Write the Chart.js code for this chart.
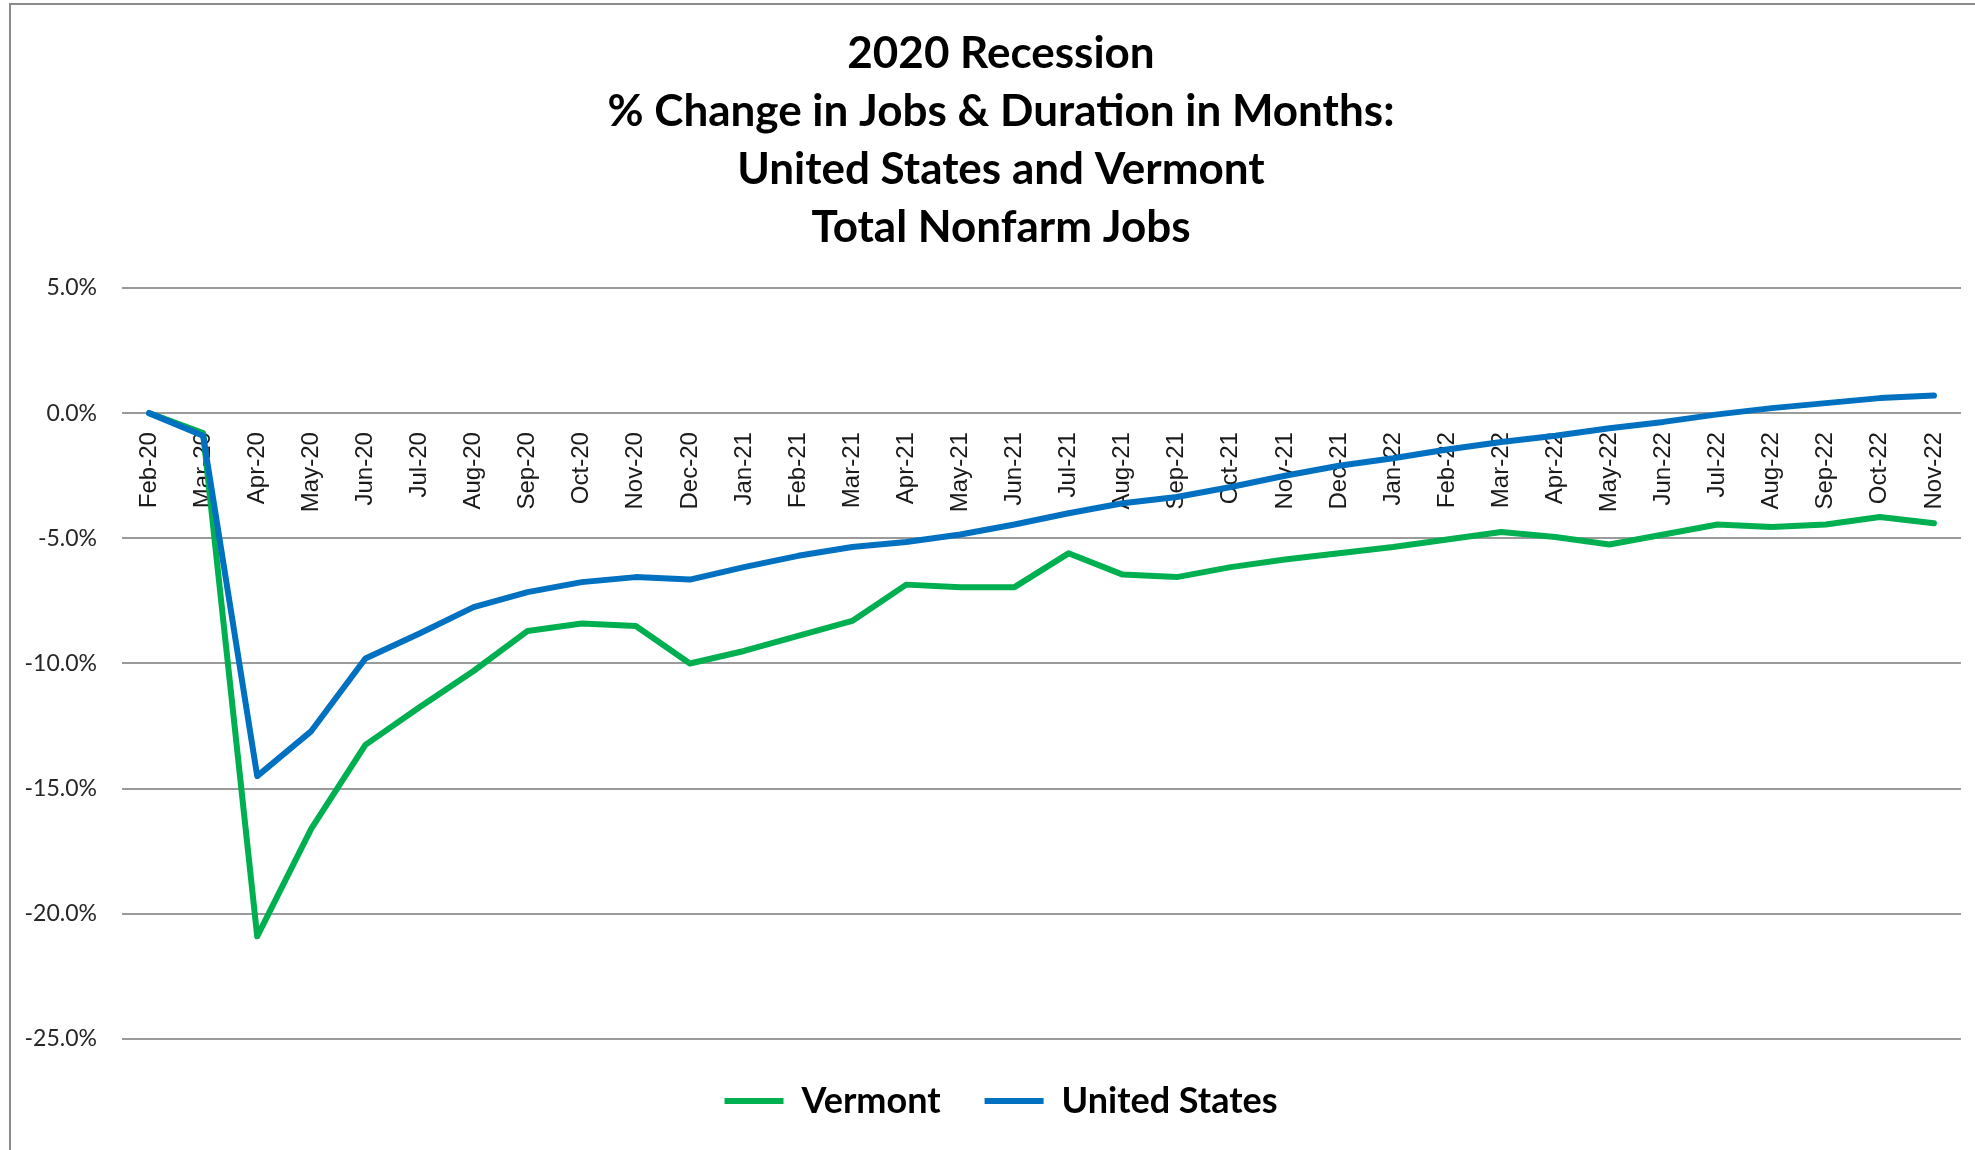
<!DOCTYPE html>
<html>
<head>
<meta charset="utf-8">
<script src="https://cdn.jsdelivr.net/npm/chart.js@4/dist/chart.umd.min.js"></script>
<style>
  html, body { margin: 0; padding: 0; background: #fff; }
  #frame { position: absolute; left: 0; top: 0; width: 1975px; height: 1150px; overflow: hidden; }
  #border { position: absolute; left: 9px; top: 3px; width: 3000px; height: 3000px;
            border-left: 2px solid #8c8c8c; border-top: 2px solid #8c8c8c; }
  /* the chart runs a bit past the right edge of the picture, like the reference */
  #wrap { position: absolute; left: 0; top: 0; width: 1992px; height: 1150px; }
</style>
</head>
<body>
<div id="frame">
  <div id="border"></div>
  <div id="wrap"><canvas id="jobsChart"></canvas></div>
</div>
<script>
// months on the category axis
var months = ['Feb-20','Mar-20','Apr-20','May-20','Jun-20','Jul-20','Aug-20','Sep-20','Oct-20','Nov-20','Dec-20',
              'Jan-21','Feb-21','Mar-21','Apr-21','May-21','Jun-21','Jul-21','Aug-21','Sep-21','Oct-21','Nov-21','Dec-21',
              'Jan-22','Feb-22','Mar-22','Apr-22','May-22','Jun-22','Jul-22','Aug-22','Sep-22','Oct-22','Nov-22'];

// % change in jobs since Feb-20
var vermont      = [0, -0.8, -20.9, -16.6, -13.25, -11.75, -10.3, -8.7, -8.4, -8.5, -10.0,
                    -9.5, -8.9, -8.3, -6.85, -6.95, -6.95, -5.6, -6.45, -6.55, -6.15, -5.85, -5.6,
                    -5.35, -5.05, -4.75, -4.95, -5.25, -4.85, -4.45, -4.55, -4.45, -4.15, -4.4];
var unitedStates = [0, -0.9, -14.5, -12.7, -9.8, -8.8, -7.75, -7.15, -6.75, -6.55, -6.65,
                    -6.15, -5.7, -5.35, -5.15, -4.85, -4.45, -4.0, -3.6, -3.35, -2.95, -2.5, -2.1,
                    -1.8, -1.45, -1.15, -0.9, -0.6, -0.35, -0.05, 0.2, 0.4, 0.6, 0.7];

var yMin = -25, yMax = 5, yStep = 5;

var titleLines = ['2020 Recession', '% Change in Jobs & Duration in Months:', 'United States and Vermont', 'Total Nonfarm Jobs'];

var ctx = document.getElementById('jobsChart');

var jobsChart = new Chart(ctx, {
    type: 'line',
    data: {
        labels: months,
        datasets: [{
            label: 'United States',
            data: unitedStates,
            borderColor: '#0070C0',
            backgroundColor: '#0070C0',
            borderWidth: 6,
            pointRadius: 0,
            tension: 0,
            borderJoinStyle: 'round',
            borderCapStyle: 'round'
        }, {
            label: 'Vermont',
            data: vermont,
            borderColor: '#00B050',
            backgroundColor: '#00B050',
            borderWidth: 6,
            pointRadius: 0,
            tension: 0,
            borderJoinStyle: 'round',
            borderCapStyle: 'round'
        }]
    },
    options: {
        responsive: true,
        maintainAspectRatio: false,
        animation: false,
        layout: {
            padding: { left: 10, right: 0, top: 0, bottom: 21 }
        },
        plugins: {
            title: {
                display: true,
                text: titleLines,
                color: '#000',
                font: { family: 'Lato', size: 44, weight: 'bold', lineHeight: 1.318 },
                padding: { top: 25, bottom: 31 }
            },
            legend: {
                position: 'bottom',
                reverse: true,
                labels: {
                    usePointStyle: true,
                    pointStyle: 'line',
                    pointStyleWidth: 59,
                    padding: 44,
                    color: '#000',
                    font: { family: 'Lato', size: 36, weight: 'bold' }
                }
            },
            tooltip: { enabled: false }
        },
        scales: {
            x: {
                type: 'category',
                position: { y: 0 },
                offset: true,
                grid: { display: false, drawTicks: false },
                border: { display: false },
                ticks: {
                    autoSkip: false,
                    maxRotation: 90,
                    minRotation: 90,
                    padding: 19,
                    color: '#1a1a1a',
                    font: { family: 'Liberation Sans', size: 24 }
                },
                afterFit: function(scale) { scale.height = 0; }
            },
            y: {
                min: yMin,
                max: yMax,
                ticks: {
                    stepSize: yStep,
                    padding: 25,
                    color: '#262626',
                    font: { family: 'Lato', size: 23 },
                    callback: function(v) { return v.toFixed(1) + '%'; }
                },
                grid: { color: '#9a9a9a', lineWidth: 2, drawTicks: false },
                border: { display: false },
                afterFit: function(scale) { scale.width = 112; }
            },
            // empty right-hand strip so the plot ends where the reference's does
            yRight: {
                type: 'linear',
                position: 'right',
                grid: { display: false, drawTicks: false },
                border: { display: false },
                ticks: { display: false },
                afterFit: function(scale) { scale.width = 31; }
            }
        }
    }
});
</script>
</body>
</html>
